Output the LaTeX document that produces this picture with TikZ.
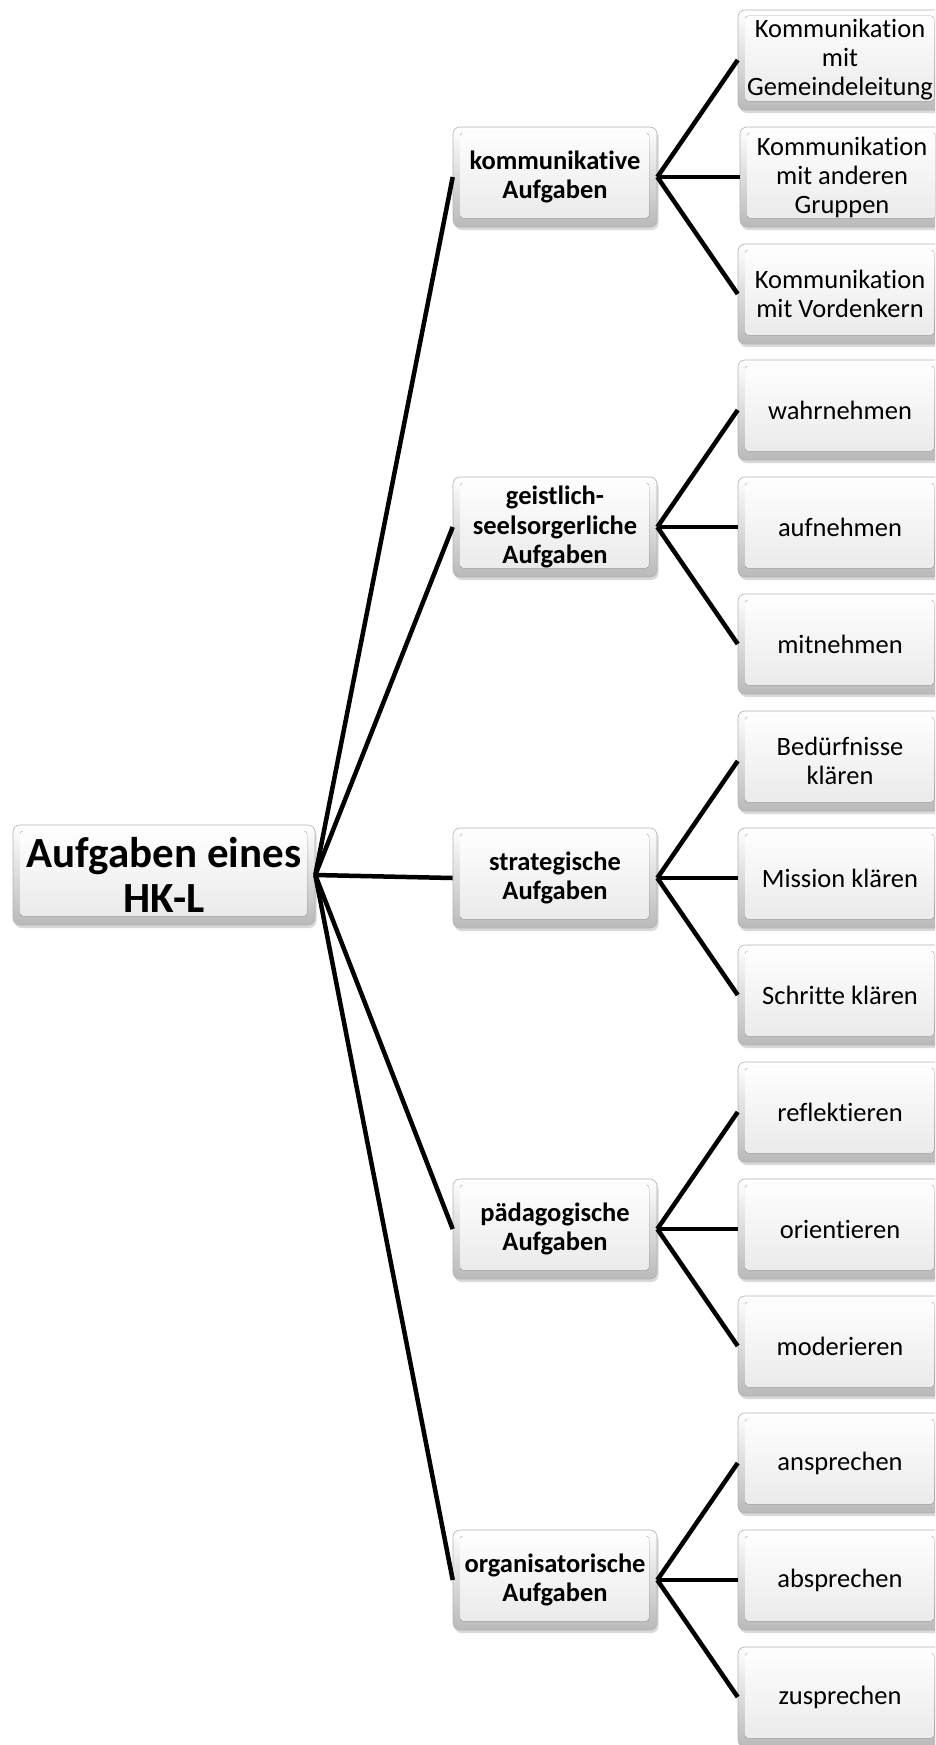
\documentclass[tikz,border=0pt]{standalone}
\usepackage{fontspec}
\setmainfont{Carlito}[Ligatures=NoCommon]
\usetikzlibrary{shadows}
\tikzset{
  box/.style={draw=gray!60, line width=0.6pt, rounded corners=7pt,
    minimum height=100pt, inner sep=1pt, align=center,
    top color=white, bottom color=gray!55,
    drop shadow={shadow xshift=1.5pt, shadow yshift=-3pt, opacity=.3},
    path picture={\fill[rounded corners=3pt, top color=white, bottom color=gray!18]
      ([shift={(7pt,-6pt)}]path picture bounding box.north west) rectangle
      ([shift={(-8pt,9pt)}]path picture bounding box.south east);}},
  root/.style={box, minimum width=302pt, font=\bfseries\fontsize{43}{45}\selectfont},
  task/.style={box, minimum width=204pt, font=\bfseries\fontsize{26.5}{29.5}\selectfont},
  item/.style={box, minimum width=204pt, font=\fontsize{26.5}{29}\selectfont},
  link/.style={line width=4.5pt}
}
\begin{document}
\begin{tikzpicture}[x=1pt,y=-1pt]
      \useasboundingbox (0,0) rectangle (935,1745);
      \clip (0,0) rectangle (935,1745);
      \path
        (164,875) node[root] (0){Aufgaben eines\\HK-L}
        (555,177) node[task] (1){kommunikative\\Aufgaben}
        (555,527) node[task] (2){geistlich-\\seelsorgerliche\\Aufgaben}
        (555,878) node[task] (3){strategische\\Aufgaben}
        (555,1229) node[task] (4){pädagogische\\Aufgaben}
        (555,1580) node[task] (5){organisatorische\\Aufgaben}
        (840,60) node[item] (1a){Kommunikation\\mit\\Gemeindeleitung}
        (842,177) node[item] (1b){Kommunikation\\mit anderen\\Gruppen}
        (840,294) node[item] (1c){Kommunikation\\mit Vordenkern}
        (840,410) node[item] (2a){wahrnehmen}
        (840,527) node[item] (2b){aufnehmen}
        (840,644) node[item] (2c){mitnehmen}
        (840,761) node[item] (3a){Bedürfnisse\\klären}
        (840,878) node[item] (3b){Mission klären}
        (840,995) node[item] (3c){Schritte klären}
        (840,1112) node[item] (4a){reflektieren}
        (840,1229) node[item] (4b){orientieren}
        (840,1346) node[item] (4c){moderieren}
        (840,1463) node[item] (5a){ansprechen}
        (840,1580) node[item] (5b){absprechen}
        (840,1697) node[item] (5c){zusprechen};
      \begin{scope}[link]
        \draw (0.east) to (1.west);
        \draw (0.east) to (2.west);
        \draw (0.east) to (3.west);
        \draw (0.east) to (4.west);
        \draw (0.east) to (5.west);
        \draw (1.east) to (1a.west);
        \draw (1.east) to (1b.west);
        \draw (1.east) to (1c.west);
        \draw (2.east) to (2a.west);
        \draw (2.east) to (2b.west);
        \draw (2.east) to (2c.west);
        \draw (3.east) to (3a.west);
        \draw (3.east) to (3b.west);
        \draw (3.east) to (3c.west);
        \draw (4.east) to (4a.west);
        \draw (4.east) to (4b.west);
        \draw (4.east) to (4c.west);
        \draw (5.east) to (5a.west);
        \draw (5.east) to (5b.west);
        \draw (5.east) to (5c.west);
      \end{scope}
    \end{tikzpicture}
\end{document}
